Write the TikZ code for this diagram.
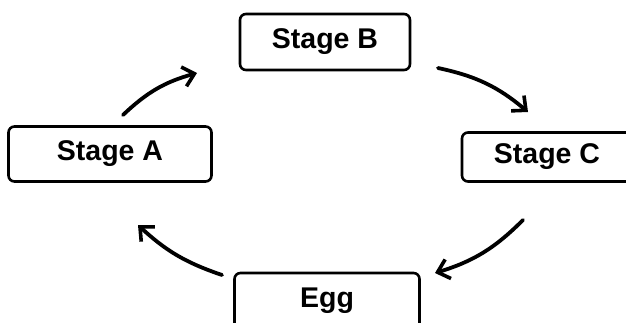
\documentclass[tikz,border=0pt]{standalone}
\usepackage{fontspec}
\setmainfont{Liberation Sans}
\usetikzlibrary{arrows.meta}

\begin{document}
\begin{tikzpicture}[x=1pt, y=-1pt,
                    stagebox/.style = {draw, line width=2.6pt, rounded corners=6pt,
                    shape=rectangle, align=center, inner sep=0pt,
                    font=\bfseries\fontsize{28.5}{30}\selectfont},
                    cycle edge/.style = {line width=3.8pt, line cap=round,
                    -{Straight Barb[length=11pt,width=20pt,line width=3.6pt]}}]
  \useasboundingbox (0,0) rectangle (626,322);
  \node[stagebox, minimum width=203pt, minimum height=55pt] (stageA) at (110,154) {Stage A};
  \node[stagebox, minimum width=170pt, minimum height=56pt] (stageB) at (325,42) {Stage B};
  \node[stagebox, minimum width=170pt, minimum height=49pt] (stageC) at (547,157) {Stage C};
  \node[stagebox, minimum width=185pt, minimum height=56pt] (egg) at (327,301) {Egg};
  \coordinate (a out) at (123,115);  \coordinate (b in)  at (197,73);
  \coordinate (b out) at (438,68);   \coordinate (c in)  at (528,112);
  \coordinate (c out) at (523,220);  \coordinate (e in)  at (435,273);
  \coordinate (e out) at (222,275);  \coordinate (a in)  at (138,225);
  \draw[cycle edge] (a out) to[bend left=14] (b in);
  \draw[cycle edge] (b out) to[bend left=14] (c in);
  \draw[cycle edge] (c out) to[bend left=14] (e in);
  \draw[cycle edge] (e out) to[bend left=12] (a in);
\end{tikzpicture}
\end{document}
